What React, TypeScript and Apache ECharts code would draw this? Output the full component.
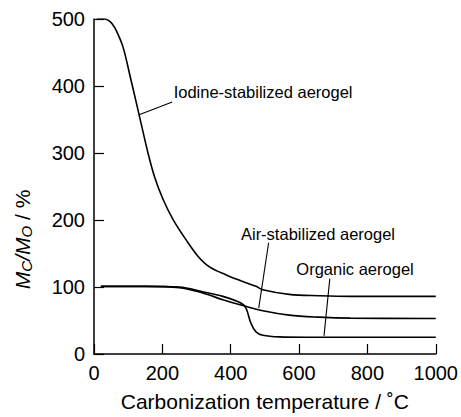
import React, { useEffect, useRef } from "react";
import * as echarts from "echarts";

const iodine: [number, number][] = [
  [8, 500], [30, 500], [42, 498], [53, 493], [66, 482], [85, 458], [105, 416], [132, 357],
  [158, 300], [178, 263], [202, 231], [231, 201], [270, 170], [304, 146],
  [338, 130], [387, 118], [426, 110], [474, 101], [494, 96], [571, 89],
  [659, 87], [750, 86], [1000, 86],
];
const air: [number, number][] = [
  [20, 101], [150, 101], [250, 99], [318, 91], [377, 81], [430, 73], [494, 64.5],
  [571, 58], [659, 55], [750, 53.5], [1000, 53],
];
const organic: [number, number][] = [
  [20, 101], [150, 101], [250, 100], [318, 93], [377, 86], [430, 76], [445, 68],
  [459, 46], [474, 33], [494, 28], [542, 25.5], [620, 25], [1000, 25],
];

const xTicks = { min: 0, max: 1000, interval: 200 };
const yTicks = { min: 0, max: 500, interval: 100 };

// annotations: text anchor (left, middle) and leader line from/to, in data coords
const annotations = [
  { text: "Iodine-stabilized aerogel", at: [233, 391], from: [229, 376], to: [132, 357] },
  { text: "Air-stabilized aerogel", at: [430, 179], from: [511, 166], to: [482, 68.5] },
  { text: "Organic aerogel", at: [592, 127.6], from: [690, 112.5], to: [673, 27] },
];
// y-axis title anchor (centre), data coords
const yTitleAt = [-210, 171];

const FONT = "Liberation Sans, Arial, Helvetica, sans-serif";

export default function App() {
  const ref = useRef<HTMLDivElement>(null);
  useEffect(() => {
    if (!ref.current) return;
    const chart = echarts.init(ref.current, null, { renderer: "svg" });
    const lineSeries = (name: string, data: [number, number][]) => ({
      name,
      type: "line",
      data,
      smooth: 0.35,
      showSymbol: false,
      symbol: "none",
      lineStyle: { color: "#000", width: 1.6 },
    });
    chart.setOption({
      animation: false,
      backgroundColor: "#fff",
      grid: { left: 94, right: 24, top: 19, bottom: 57 },
      xAxis: {
        type: "value",
        ...xTicks,
        name: "Carbonization temperature / ˚C",
        nameLocation: "middle",
        nameGap: 37,
        nameTextStyle: { color: "#000", fontSize: 21, fontFamily: FONT },
        axisLine: { show: true, lineStyle: { color: "#000", width: 1.5 } },
        axisTick: { show: true, inside: true, length: 10, lineStyle: { color: "#000", width: 1.2 } },
        axisLabel: { color: "#000", fontSize: 20, fontFamily: FONT, margin: 9, formatter: (v: number) => String(v) },
        splitLine: { show: false },
      },
      yAxis: {
        type: "value",
        ...yTicks,
        axisLine: { show: true, lineStyle: { color: "#000", width: 1.5 } },
        axisTick: { show: true, inside: true, length: 10, lineStyle: { color: "#000", width: 1.2 } },
        axisLabel: { color: "#000", fontSize: 20, fontFamily: FONT, margin: 9 },
        splitLine: { show: false },
      },
      series: [
        lineSeries("Iodine-stabilized aerogel", iodine),
        lineSeries("Air-stabilized aerogel", air),
        lineSeries("Organic aerogel", organic),
      ],
    });
    const px = (p: number[]) => chart.convertToPixel({ gridIndex: 0 }, p) as number[];
    const graphics: any[] = [];
    annotations.forEach((a) => {
      const t = px(a.at);
      const f = px(a.from);
      const e = px(a.to);
      graphics.push({
        type: "line",
        shape: { x1: f[0], y1: f[1], x2: e[0], y2: e[1] },
        style: { stroke: "#000", lineWidth: 1.1 },
        z: 10,
      });
      graphics.push({
        type: "text",
        x: t[0],
        y: t[1],
        style: {
          text: a.text,
          fill: "#000",
          font: `16.5px ${FONT}`,
          textAlign: "left",
          textVerticalAlign: "middle",
        },
        z: 10,
      });
    });
    const yt = px(yTitleAt);
    graphics.push({
      type: "text",
      x: yt[0],
      y: yt[1],
      rotation: Math.PI / 2,
      style: {
        text: "{i|M}{s|C}{i|/M}{s|O}{n| / %}",
        fill: "#000",
        font: `21px ${FONT}`,
        textAlign: "center",
        textVerticalAlign: "middle",
        rich: {
          i: { fontSize: 21, fontStyle: "italic", fontFamily: FONT, fill: "#000" },
          s: { fontSize: 15, fontStyle: "italic", fontFamily: FONT, fill: "#000", verticalAlign: "bottom", padding: [9, 0, 0, 0] },
          n: { fontSize: 21, fontFamily: FONT, fill: "#000" },
        },
      },
      z: 10,
    });
    chart.setOption({ graphic: graphics });
    return () => chart.dispose();
  }, []);
  return <div ref={ref} style={{ width: 461, height: 417, position: "absolute", left: 0, top: 0 }} />;
}
